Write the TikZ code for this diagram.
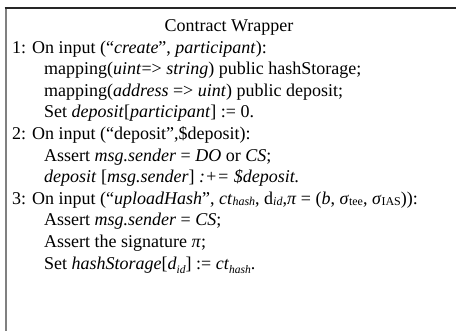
\documentclass[tikz,border=0pt]{standalone}
\usepackage{fontspec}
\setmainfont{Liberation Serif}
% small, slightly lowered index text
\newcommand\lowidx[1]{\raisebox{-1.5pt}{\fontsize{12}{12}\selectfont #1}}
\newcommand\subidx[1]{\raisebox{-4pt}{\fontsize{11.5}{11.5}\selectfont #1}}
\begin{document}
\begin{tikzpicture}[x=1pt,y=-1pt,
  codeline/.style={anchor=base west, inner sep=0pt, font=\fontsize{18}{21.6}\selectfont},
  title/.style={anchor=base, inner sep=0pt, font=\fontsize{18}{21.6}\selectfont}]
\useasboundingbox (0,0) rectangle (456,333);
% frame: top rule and left rule
\draw[black!50, line width=2pt] (5.5,8) -- (5.5,331);
\draw[black!85, line width=2pt] (4.5,8) -- (456,8);
% heading
\node[title] (head) at (229,31) {Contract Wrapper};
% step 1
\node[codeline] (s1)  at (12,53)   {1: On input (“\textit{create}”, \textit{participant}):};
\node[codeline] (s1a) at (44,74.6) {mapping(\textit{uint}=> \textit{string}) public hashStorage;};
\node[codeline] (s1b) at (44,96.2) {mapping(\textit{address} => \textit{uint}) public deposit;};
\node[codeline] (s1c) at (44,117.8) {Set \textit{deposit}[\textit{participant}] := 0.};
% step 2
\node[codeline] (s2)  at (12,139.4) {2: On input (“deposit”,\$deposit):};
\node[codeline] (s2a) at (44,161)  {Assert \textit{msg.sender} = \textit{DO} or \textit{CS};};
\node[codeline] (s2b) at (44,182.6) {\textit{deposit} [\textit{msg.sender}] \textit{:+= \$deposit.}};
% step 3
\node[codeline] (s3)  at (12,204.2) {3: On input (“\textit{uploadHash}”, \textit{ct}\lowidx{\textit{hash}}, d\lowidx{\textit{id}},\textit{π} = (\textit{b}, \textit{σ}\lowidx{tee}, \textit{σ}\lowidx{IAS})):};
\node[codeline] (s3a) at (44,225.8) {Assert \textit{msg.sender} = \textit{CS};};
\node[codeline] (s3b) at (44,247.4) {Assert the signature \textit{π};};
\node[codeline] (s3c) at (44,269)  {Set \textit{hashStorage}[\textit{d}\subidx{\textit{id}}] := \textit{ct}\subidx{\textit{hash}}.};
\end{tikzpicture}
\end{document}
